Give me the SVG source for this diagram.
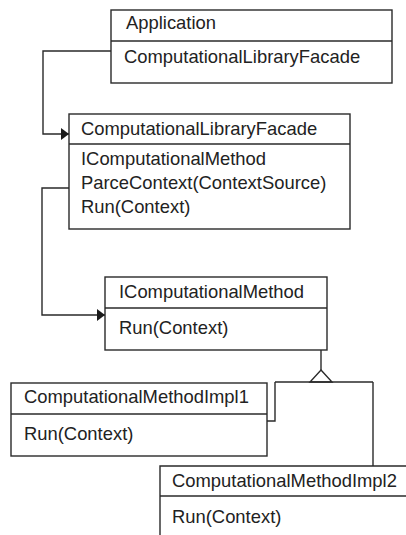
<svg xmlns="http://www.w3.org/2000/svg" width="406" height="535" viewBox="0 0 406 535">
<style>
.box{fill:#fff;stroke:#2a2a2a;stroke-width:1.4}
.ln{fill:none;stroke:#2a2a2a;stroke-width:1.4}
text{font-family:"Liberation Sans",Arial,sans-serif;font-size:18.4px;fill:#222}
</style>
<defs>
<marker id="arr" markerWidth="8" markerHeight="12" refX="8" refY="6" orient="auto" markerUnits="userSpaceOnUse">
<path d="M0,0 L8,6 L0,12 Z" fill="#1a1a1a"/>
</marker>
</defs>
<rect width="406" height="535" fill="#fff"/>
<g id="connectors">
<path class="ln" d="M111,51 H43 V134 H69" marker-end="url(#arr)"/>
<path class="ln" d="M69,188 H42 V315 H105" marker-end="url(#arr)"/>
<path class="ln" d="M321,350 V370"/>
<path class="ln" d="M321,370 L332,382 L310,382 Z" fill="#fff"/>
<path class="ln" d="M275,382 H373"/>
<path class="ln" d="M275,382 V421 H267"/>
<path class="ln" d="M373,382 V466"/>
</g>
<g id="application">
<rect class="box" x="111" y="10" width="281" height="73"/>
<line class="ln" x1="111" y1="41" x2="392" y2="41"/>
<text x="126" y="29">Application</text>
<text x="124" y="63">ComputationalLibraryFacade</text>
</g>
<g id="facade">
<rect class="box" x="69" y="114" width="281" height="115"/>
<line class="ln" x1="69" y1="144" x2="350" y2="144"/>
<text x="81" y="135">ComputationalLibraryFacade</text>
<text x="81" y="165">IComputationalMethod</text>
<text x="81" y="189">ParceContext(ContextSource)</text>
<text x="81" y="213">Run(Context)</text>
</g>
<g id="icomputationalmethod">
<rect class="box" x="105" y="277" width="222" height="73"/>
<line class="ln" x1="105" y1="308" x2="327" y2="308"/>
<text x="119" y="298">IComputationalMethod</text>
<text x="119" y="334">Run(Context)</text>
</g>
<g id="impl1">
<rect class="box" x="11" y="383" width="256" height="73"/>
<line class="ln" x1="11" y1="414" x2="267" y2="414"/>
<text x="24" y="403">ComputationalMethodImpl1</text>
<text x="24" y="440">Run(Context)</text>
</g>
<g id="impl2">
<path class="ln" d="M410,466 H160 V540"/>
<line class="ln" x1="160" y1="496" x2="410" y2="496"/>
<text x="172" y="487">ComputationalMethodImpl2</text>
<text x="172" y="523">Run(Context)</text>
</g>
</svg>
